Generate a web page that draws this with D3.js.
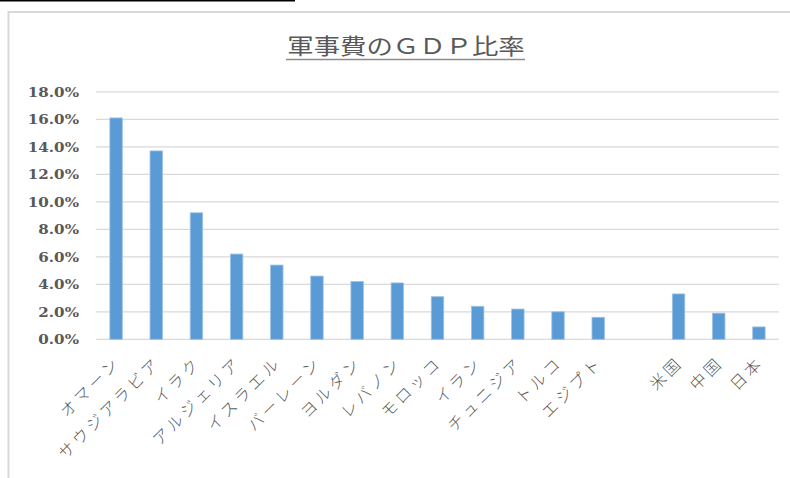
<!DOCTYPE html>
<html>
<head>
<meta charset="utf-8">
<script src="https://cdn.jsdelivr.net/npm/d3@7"></script>
<style>
  html, body { margin: 0; padding: 0; background: #fff; }
  svg { display: block; }
</style>
</head>
<body>
<svg id="chart" width="790" height="478"></svg>
<script>
// ---- data ----
const categories = ["オマーン", "サウジアラビア", "イラク", "アルジェリア", "イスラエル", "バーレーン",
  "ヨルダン", "レバノン", "モロッコ", "イラン", "チュニジア", "トルコ", "エジプト", "", "米国", "中国", "日本"];
const values = [16.1, 13.7, 9.2, 6.2, 5.4, 4.6, 4.2, 4.1, 3.1, 2.4, 2.2, 2.0, 1.6, null, 3.3, 1.9, 0.9];
const yTicks = [0, 2, 4, 6, 8, 10, 12, 14, 16, 18];
const titleText = "軍事費のＧＤＰ比率";

// ---- layout ----
const svg = d3.select("#chart");
const plotLeft = 96, plotRight = 779, plotTop = 91.8, plotBottom = 339.3;
const textColor = "#595959";

// top black rule and chart border
svg.append("rect").attr("x", 0).attr("y", 0).attr("width", 295).attr("height", 1.5).attr("fill", "#000");
svg.append("path").attr("d", "M8.5,478V12H790").attr("fill", "none")
  .attr("stroke", "#d9d9d9").attr("stroke-width", 2);

const idx = categories.map((d, i) => i);
const x = d3.scaleBand().domain(idx).range([plotLeft, plotRight])
  .paddingInner(0.69).paddingOuter(0.345);
const y = d3.scaleLinear().domain([0, 18]).range([plotBottom, plotTop]);

// gridlines
svg.append("g").selectAll("line").data(yTicks).join("line")
  .attr("x1", plotLeft).attr("x2", plotRight)
  .attr("y1", d => y(d)).attr("y2", d => y(d))
  .attr("stroke", "#d9d9d9").attr("stroke-width", 1.3);

// y tick labels
const fmt = d3.format(".1f");
svg.append("g").selectAll("text").data(yTicks).join("text")
  .attr("transform", d => `translate(79,${y(d)}) scale(1.12,1)`)
  .attr("text-anchor", "end").attr("dy", "0.36em")
  .attr("font-family", "DejaVu Serif").attr("font-weight", "bold").attr("font-size", 13.5)
  .attr("fill", textColor)
  .text(d => fmt(d) + "%");

// bars
svg.append("g").selectAll("rect")
  .data(values.map((v, i) => ({ v, i })).filter(d => d.v != null))
  .join("rect")
  .attr("x", d => x(d.i)).attr("width", x.bandwidth())
  .attr("y", d => y(d.v)).attr("height", d => y(0) - y(d.v))
  .attr("fill", "#5b9bd5").attr("stroke", "#9cc2e5").attr("stroke-width", 0.8);

// x labels
svg.append("g").selectAll("text").data(idx.filter(i => categories[i] !== "")).join("text")
  .attr("transform", i => `translate(${x(i) + x.bandwidth() / 2 + 1.5},359.5) rotate(-45)`)
  .attr("text-anchor", "end").attr("dy", "0.36em")
  .attr("font-family", "Noto Sans CJK JP").attr("font-weight", 300).attr("font-size", 16)
  .attr("letter-spacing", "3.5px")
  .attr("fill", textColor)
  .text(i => categories[i]);

// title
svg.append("text")
  .attr("transform", "translate(406,54) scale(1.2,1)")
  .attr("text-anchor", "middle")
  .attr("font-family", "Noto Sans CJK JP").attr("font-size", 22)
  .attr("fill", textColor)
  .text(titleText);
svg.append("line").attr("x1", 286).attr("x2", 525).attr("y1", 59.5).attr("y2", 59.5)
  .attr("stroke", "#8c8c8c").attr("stroke-width", 1.5);
</script>
</body>
</html>
